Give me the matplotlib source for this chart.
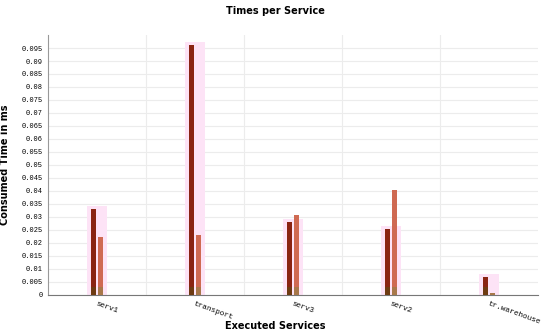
import matplotlib.pyplot as plt
import matplotlib.transforms as mtransforms
import numpy as np

services = ['serv1', 'transport', 'serv3', 'serv2', 'tr.warehouse']
time_a = [0.033, 0.096, 0.0278, 0.0254, 0.0068]
time_b = [0.022, 0.023, 0.0308, 0.0402, 0.0006]
yticks = [round(0.005 * i, 3) for i in range(20)]

fig = plt.figure(figsize=(5.5, 3.34), dpi=100)
ax = fig.add_axes([0.0873, 0.118, 0.891, 0.777])

x = np.arange(len(services))
w = 0.05
off = 0.036

# pale halo behind each pair
ax.bar(x, [v + 0.0012 for v in time_a], width=0.2, color='#fde3f6', zorder=1)

ax.bar(x - off, time_a, width=w, color='#8a2412', zorder=3)
ax.bar(x + off, time_b, width=w, color='#cf6a52', zorder=3)
# brownish foot of the bars
ax.bar(x - off, [min(v, 0.003) for v in time_a], width=w, color='#6e3b12', zorder=4)
ax.bar(x + off, [min(v, 0.003) for v in time_b], width=w, color='#a8784a', zorder=4)

ax.set_xlim(-0.5, len(services) - 0.5)
ax.set_ylim(0, 0.1)
ax.set_yticks(yticks)
ax.set_yticklabels(['%g' % t for t in yticks], family='Liberation Mono', fontsize=5)
ax.set_xticks(x)
ax.set_xticklabels(services, family='Liberation Mono', fontsize=5.5, rotation=-20,
                   ha='left', rotation_mode='anchor')
shift = mtransforms.ScaledTranslation(-5 / 100, 0, fig.dpi_scale_trans)
for lab in ax.get_xticklabels():
    lab.set_transform(lab.get_transform() + shift)
ax.set_xticks(np.arange(len(services) - 1) + 0.5, minor=True)
ax.tick_params(axis='both', length=0, pad=4)
ax.tick_params(axis='x', which='minor', length=0)

ax.grid(axis='y', color='#ececec', linewidth=0.8, zorder=0)
ax.grid(axis='x', which='minor', color='#ececec', linewidth=0.8, zorder=0)
ax.set_axisbelow(True)

for s in ['top', 'right']:
    ax.spines[s].set_visible(False)
ax.spines['left'].set_color('#999999')
ax.spines['bottom'].set_color('#777777')

fig.text(0.5, 0.024, 'Executed Services', ha='center', va='center',
         fontsize=7, fontweight='bold')
ax.set_ylabel('Consumed Time in ms', fontsize=7, fontweight='bold', labelpad=8)
fig.text(0.5, 0.982, 'Times per Service', ha='center', va='top',
         fontsize=7, fontweight='bold')

fig.savefig('out.png', dpi=100)
